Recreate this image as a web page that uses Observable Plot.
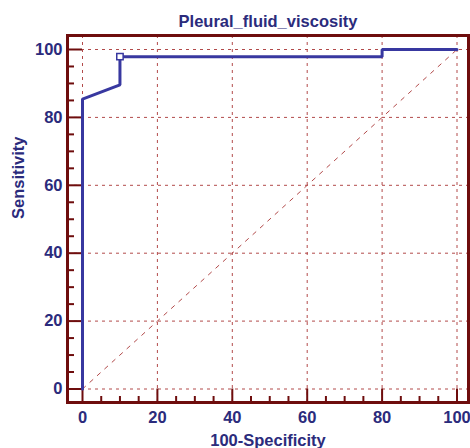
<!DOCTYPE html>
<html>
<head>
<meta charset="utf-8">
<script src="https://cdn.jsdelivr.net/npm/d3@7"></script>
<script src="https://cdn.jsdelivr.net/npm/@observablehq/plot@0.6"></script>
<style>
  html, body { margin: 0; padding: 0; background: #fff; }
  #chart svg { display: block; }
</style>
</head>
<body>
<div id="chart"></div>
<script>
const title = "Pleural_fluid_viscosity";
const xLabel = "100-Specificity";
const yLabel = "Sensitivity";
// ROC curve points (100-Specificity, Sensitivity)
const fpr = [0, 0, 10, 10, 80, 80, 100];
const tpr = [0, 85.4, 89.6, 97.9, 97.9, 100, 100];
// optimal criterion marker
const markerX = [10];
const markerY = [97.9];
// reference diagonal
const diagX = [0, 100];
const diagY = [0, 100];
const majorTicks = [0, 20, 40, 60, 80, 100];
const minorTicks = [5, 10, 15, 25, 30, 35, 45, 50, 55, 65, 70, 75, 85, 90, 95];

const curve = fpr.map((x, i) => ({x, y: tpr[i]}));
const diag = diagX.map((x, i) => ({x, y: diagY[i]}));
const marker = markerX.map((x, i) => ({x, y: markerY[i]}));

const frameColor = "#6e0d0d";
const gridColor = "#b24a4a";
const textColor = "#2b2b7c";
const lineColor = "#3838a0";
const font = "Liberation Sans, Arial, sans-serif";
const fs = 16.5;

const chart = Plot.plot({
  width: 470,
  height: 448,
  marginLeft: 67,
  marginRight: 2,
  marginTop: 35,
  marginBottom: 46,
  style: {fontFamily: font, background: "#fff", overflow: "visible"},
  x: {domain: [0, 100], range: [82, 456.5]},
  y: {domain: [0, 100], range: [388.5, 49]},
  marks: [
    Plot.ruleX(majorTicks, {stroke: gridColor, strokeWidth: 1, strokeDasharray: "3,4"}),
    Plot.ruleY(majorTicks, {stroke: gridColor, strokeWidth: 1, strokeDasharray: "3,4"}),
    Plot.line(diag, {x: "x", y: "y", stroke: gridColor, strokeWidth: 1, strokeDasharray: "4,6"}),
    // major ticks (inward to the zero lines)
    Plot.axisX(majorTicks, {anchor: "bottom", tickSize: -13.5, text: null, stroke: frameColor, strokeWidth: 2, label: null}),
    Plot.axisY(majorTicks, {anchor: "left", tickSize: -15, text: null, stroke: frameColor, strokeWidth: 2, label: null}),
    // minor ticks
    Plot.axisX(minorTicks, {anchor: "bottom", tickSize: -6, text: null, stroke: frameColor, strokeWidth: 2, label: null}),
    Plot.axisY(minorTicks, {anchor: "left", tickSize: -7, text: null, stroke: frameColor, strokeWidth: 2, label: null}),
    // tick labels
    Plot.axisX(majorTicks, {anchor: "bottom", tickSize: 0, tickPadding: 9, fontSize: fs, fontWeight: "bold", fill: textColor, label: null}),
    Plot.axisY(majorTicks, {anchor: "left", tickSize: 0, tickPadding: 5, fontSize: fs, fontWeight: "bold", fill: textColor, label: null}),
    Plot.frame({stroke: frameColor, strokeWidth: 3}),
    Plot.line(curve, {x: "x", y: "y", stroke: lineColor, strokeWidth: 3, strokeLinejoin: "miter"}),
    Plot.dot(marker, {x: "x", y: "y", symbol: "square", r: 3.6, fill: "white", stroke: lineColor, strokeWidth: 1.5}),
    Plot.text([title], {frameAnchor: "top", dy: -14, fontSize: fs, fontWeight: "bold", fill: textColor, lineAnchor: "middle"}),
    Plot.text([xLabel], {frameAnchor: "bottom", dy: 38, fontSize: fs, fontWeight: "bold", fill: textColor, lineAnchor: "middle"}),
    Plot.text([yLabel], {frameAnchor: "left", dx: -49, rotate: -90, fontSize: fs, fontWeight: "bold", fill: textColor, lineAnchor: "middle"})
  ]
});
document.getElementById("chart").appendChild(chart);
</script>
</body>
</html>
